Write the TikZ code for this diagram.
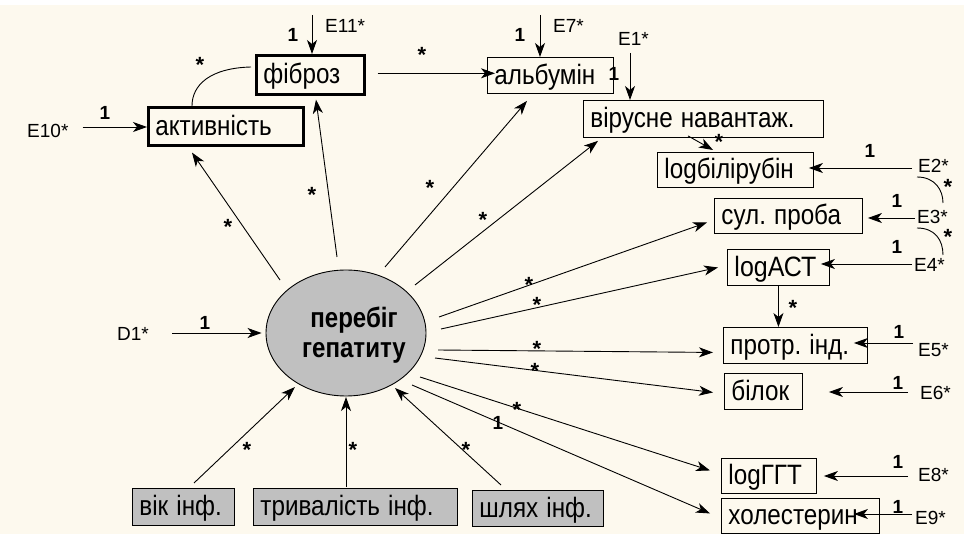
\documentclass[tikz,border=0pt]{standalone}
\usepackage{fontspec}
\usepackage{graphicx}
\setmainfont{Liberation Sans}
\usetikzlibrary{arrows.meta,shapes.geometric,calc}
\definecolor{cream}{HTML}{FDF9EE}
\definecolor{boxgray}{HTML}{C0C0C0}
\newcommand\sx[1]{\scalebox{0.97}[1.12]{#1}}
\newcommand\sxb[1]{\scalebox{0.86}[1]{#1}}
\frenchspacing
\begin{document}
\begin{tikzpicture}[x=1pt,y=-1pt,
  bx/.style={draw, line width=0.9pt, rectangle, inner xsep=7pt, inner ysep=0pt, align=left,
    text height=24pt, text depth=6pt, font=\fontsize{25}{28}\selectfont\frenchspacing, anchor=north west},
  thickbx/.style={bx, line width=2.6pt},
  graybx/.style={bx, fill=boxgray},
  arr/.style={line width=0.9pt, -{Stealth[length=14pt,width=10pt,inset=4pt]}},
  cov/.style={line width=0.9pt},
  elab/.style={font=\fontsize{19}{22}\selectfont, inner sep=0pt, anchor=west},
  one/.style={font=\bfseries\fontsize{19}{22}\selectfont, inner sep=0pt},
  st/.style={font=\bfseries\fontsize{22}{24}\selectfont, inner sep=0pt, yshift=-5pt},
]
\useasboundingbox (0,0) rectangle (964,534);
\fill[white] (0,0) rectangle (964,534);
\fill[cream] (0,5) rectangle (964,534);

% boxes
\node[thickbx, text width=141pt, minimum height=38pt] (act) at (147,106) {\sx{активність}};
\node[thickbx, text width=94pt, minimum height=39pt] (fib) at (255,54) {\sx{фіброз}};
\node[bx, text width=112pt, minimum height=36pt] (alb) at (487,57) {\sx{альбумін}};
\node[bx, text width=226pt, minimum height=37pt] (vir) at (583,100) {\sx{вірусне навантаж.}};
\node[bx, text width=142pt, minimum height=35pt] (lbil) at (657,152) {\sx{logбілірубін}};
\node[bx, text width=134pt, minimum height=35pt] (sul) at (714,198) {\sx{сул. проба}};
\node[bx, text width=88pt, minimum height=36pt] (ast) at (727,249) {\scalebox{1.0}[1.12]{logАСТ}};
\node[bx, text width=130pt, minimum height=36pt] (prot) at (723,327) {\sx{протр. інд.}};
\node[bx, text width=64pt, minimum height=36pt] (bil) at (724,373) {\sx{білок}};
\node[bx, text width=81pt, minimum height=35pt] (ggt) at (721,458) {\sx{logГГТ}};
\node[bx, text width=144pt, minimum height=35pt] (hol) at (721,498) {\sx{холестерин}};
\node[graybx, text width=88pt, minimum height=37pt] (vik) at (132,488) {\sx{вік інф.}};
\node[graybx, text width=190pt, minimum height=37pt] (tryv) at (253,488) {\sx{тривалість інф.}};
\node[graybx, text width=117pt, minimum height=36pt] (shl) at (472,490) {\sx{шлях інф.}};

% latent
\node[draw, ellipse, fill=boxgray, line width=0.9pt, minimum width=160pt, minimum height=126pt, inner sep=0pt] (hep) at (346,333) {};
\node[font=\bfseries\fontsize{28}{30}\selectfont, align=center, inner sep=0pt] (heptxt) at (354,335) {\sxb{перебіг}\\\sxb{гепатиту}};

% error labels
\node[elab] (E10) at (27,131) {E10*};
\node[elab] (E11) at (325,26) {E11*};
\node[elab] (E7) at (553,26) {E7*};
\node[elab] (E1) at (618,39) {E1*};
\node[elab] (E2) at (918,166) {E2*};
\node[elab] (E3) at (917,217) {E3*};
\node[elab] (E4) at (914,265) {E4*};
\node[elab] (E5) at (918,350) {E5*};
\node[elab] (E6) at (920,393) {E6*};
\node[elab] (E8) at (918,475) {E8*};
\node[elab] (E9) at (915,518) {E9*};
\node[elab] (D1) at (117,334) {D1*};

% error arrows
\draw[arr] ($(E10.east)+(14,-4)$) coordinate (a10) -- (a10 -| act.west);
\draw[arr] ($(E11.west)+(-13,-11)$) coordinate (a11) -- (a11 |- fib.north);
\draw[arr] ($(E7.west)+(-13,-11)$) coordinate (a7) -- (a7 |- alb.north);
\draw[arr] ($(E1.west)+(12,14)$) coordinate (a1) -- (a1 |- vir.north);
\draw[arr, shorten >=-5pt] ($(E2.west)+(-6,2)$) coordinate (a2) -- (a2 -| lbil.east);
\draw[arr, shorten >=5pt] ($(E3.west)+(-2,1)$) coordinate (a3) -- (a3 -| sul.east);
\draw[arr, shorten >=-9pt] ($(E4.west)+(-2,-1)$) coordinate (a4) -- (a4 -| ast.east);
\draw[arr, shorten >=-14pt] ($(E5.west)+(-5,-7)$) coordinate (a5) -- (a5 -| prot.east);
\draw[arr, shorten >=26pt] ($(E6.west)+(-12,-1)$) coordinate (a6) -- (a6 -| bil.east);
\draw[arr, shorten >=7pt] ($(E8.west)+(-10,1)$) coordinate (a8) -- (a8 -| ggt.east);
\draw[arr, shorten >=-26pt] ($(E9.west)+(-3,-4)$) coordinate (a9) -- (a9 -| hol.east);
\draw[arr, shorten >=4pt] ($(D1.east)+(23,-1)$) coordinate (d1) -- (d1 -| hep.west);

% "1" labels
\node[one] (o10) at (105,113) {1};
\node[one] (o11) at (293,35) {1};
\node[one] (o7) at (520,35) {1};
\node[one] (o1) at (614,74) {1};
\node[one] (o2) at (870,151) {1};
\node[one] (o3) at (897,201) {1};
\node[one] (o4) at (897,247) {1};
\node[one] (o5) at (899,332) {1};
\node[one] (o6) at (898,383) {1};
\node[one] (o8) at (898,462) {1};
\node[one] (o9) at (898,507) {1};
\node[one] (od) at (205,323) {1};

% rays from latent
\draw[arr] ($(hep.center)+(-66,-53)$) -- ($(act.south west)+(45,6)$);
\draw[arr] ($(hep.center)+(-9,-76)$) -- ($(fib.south west)+(61,4)$);
\draw[arr] ($(hep.center)+(39,-66)$) -- ($(alb.south west)+(40,7)$);
\draw[arr] ($(hep.center)+(69,-48)$) -- ($(vir.south west)+(15,3)$);
\draw[arr] ($(hep.center)+(93,-16)$) -- ($(sul.west)+(-7,6.5)$);
\draw[arr] ($(hep.center)+(95,-4)$) -- ($(ast.west)+(-9,0)$);
\draw[arr] ($(hep.center)+(92,17)$) -- ($(prot.west)+(-10,7)$);
\draw[arr] ($(hep.center)+(89,25)$) -- ($(bil.west)+(-11,1)$);
\draw[arr] ($(hep.center)+(74,44)$) -- ($(ggt.west)+(-11,-5.5)$);
\draw[arr] ($(hep.center)+(66,52)$) -- ($(hol.west)+(-11,-2.5)$);

% causes
\draw[arr] ($(vik.north west)+(62,-5)$) -- ($(hep.center)+(-51,54)$);
\draw[arr] ($(tryv.north west)+(93,-1)$) -- ($(hep.center)+(0,64)$);
\draw[arr] ($(shl.north west)+(29,-5)$) -- ($(hep.center)+(49,55)$);

% other paths
\draw[arr, shorten >=-8pt] ($(fib.east)+(12,-1.5)$) coordinate (f1) -- (f1 -| alb.west);
\draw[arr] ($(vir.south west)+(105,-2)$) -- ($(lbil.north west)+(56,-2)$);
\draw[arr] (ast.south) -- (prot.north -| ast.south);

% covariances
\draw[cov] ($(act.north west)+(45,0)$) .. controls (192,85) and (210,68) .. ($(fib.north west)+(-4,13)$);
\draw[cov] ($(E2.west)+(-1,11)$) .. controls (935,177) and (943,190) .. ($(E3.west)+(26,-14)$);
\draw[cov] ($(E3.west)+(0,11)$) .. controls (935,228) and (943,240) .. ($(E4.west)+(29,-10)$);

% stars
\node[st] at (228,222) {*};
\node[st] at (312,190) {*};
\node[st] at (430,183) {*};
\node[st] at (483,215) {*};
\node[st] at (529,280) {*};
\node[st] at (537,300) {*};
\node[st] at (537,344) {*};
\node[st] at (535,366) {*};
\node[st] at (517,405) {*};
\node[one] at (498,423) {1};
\node[st] at (247,445) {*};
\node[st] at (353,445) {*};
\node[st] at (466,445) {*};
\node[st] at (422,50) {*};
\node[st] at (719,137) {*};
\node[st] at (793,303) {*};
\node[st] at (200,60) {*};
\node[st] at (948,182) {*};
\node[st] at (948,232) {*};
\end{tikzpicture}
\end{document}
